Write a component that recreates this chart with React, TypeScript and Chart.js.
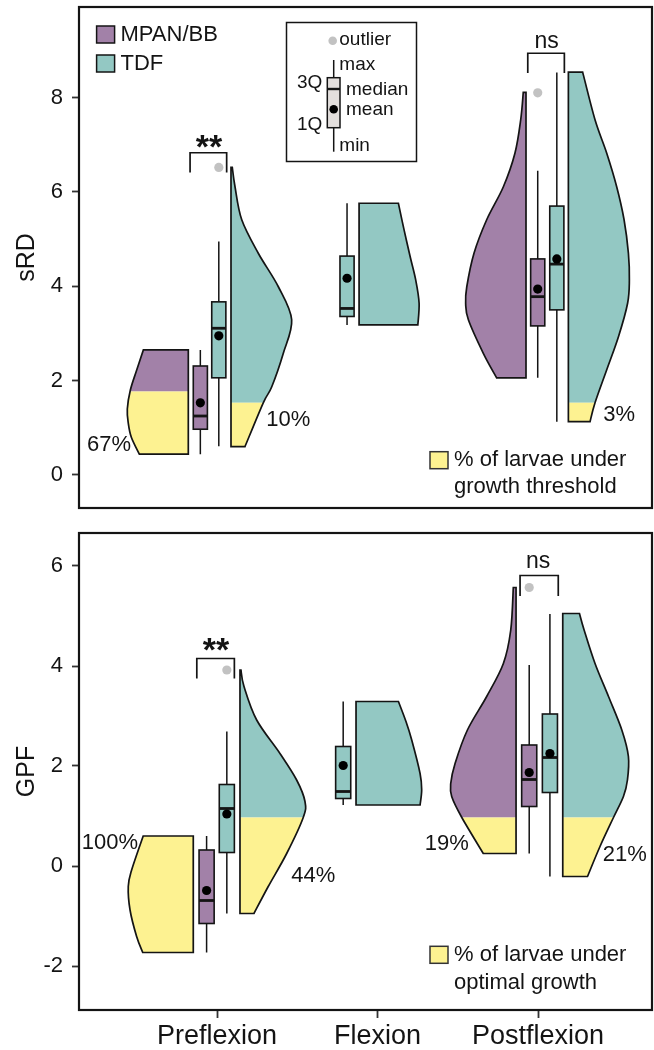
import React, { useEffect, useRef } from 'react';
import { Chart, registerables } from 'chart.js';

Chart.register(...registerables);

const FONT = "'Liberation Sans', Arial, Helvetica, sans-serif";
const PURPLE = '#a281a8';
const TEAL = '#93c8c3';
const YELLOW = '#fdf291';
const OUTLIER_GRAY = '#c2c2c2';
const INK = '#141414';

// ---------- shared categories ----------
const categories = ['Preflexion', 'Flexion', 'Postflexion'];
const groups = ['MPAN/BB', 'TDF'];

// ---------- sRD panel data ----------
const srdTicks = [0, 2, 4, 6, 8];
// [min, Q1, median, Q3, max] per category
const srdMpanBox = [[0.44, 0.97, 1.25, 2.31, 2.65], null, [2.06, 3.16, 3.78, 4.58, 6.45]];
const srdTdfBox = [[0.61, 2.06, 3.11, 3.67, 4.95], [3.18, 3.36, 3.53, 4.64, 5.76], [1.13, 3.5, 4.47, 5.7, 8.53]];
const srdMpanMean = [1.53, null, 3.94];
const srdTdfMean = [2.95, 4.17, 4.58];
const srdMpanOutliers = [[], [], [8.1]];
const srdTdfOutliers = [[6.52], [], []];
// half-violin density: [value, half-width in category units]
const srdMpanDensity = [
  [[0.44, 0.305], [0.8, 0.355], [1.1, 0.374], [1.4, 0.38], [1.8, 0.361], [2.2, 0.324], [2.65, 0.28]],
  null,
  [[2.06, 0.183], [2.58, 0.266], [3.29, 0.359], [3.64, 0.376], [3.99, 0.369], [4.7, 0.324], [5.41, 0.245], [6.11, 0.141], [6.82, 0.069], [7.53, 0.033], [8.11, 0.017]],
];
const srdTdfDensity = [
  [[0.6, 0.087], [1.53, 0.201], [1.87, 0.254], [2.58, 0.326], [3.29, 0.378], [3.99, 0.295], [4.7, 0.17], [5.41, 0.067], [6.11, 0.025], [6.52, 0.008]],
  [[3.18, 0.366], [3.64, 0.374], [4.13, 0.353], [4.63, 0.318], [5.2, 0.28], [5.76, 0.245]],
  [[1.13, 0.135], [1.53, 0.166], [2.23, 0.239], [2.93, 0.312], [3.64, 0.369], [4.13, 0.38], [4.7, 0.374], [5.41, 0.347], [6.11, 0.301], [6.82, 0.239], [7.53, 0.166], [8.54, 0.089]],
];
const srdThresholds = [1.77, 1.53];
const srdMpanPct = ['67%', null, null];
const srdTdfPct = ['10%', null, '3%'];
const srdSignif = ['**', null, 'ns'];

// ---------- GPF panel data ----------
const gpfTicks = [-2, 0, 2, 4, 6];
const gpfMpanBox = [[-1.73, -1.15, -0.69, 0.32, 0.6], null, [0.25, 1.19, 1.73, 2.42, 4.02]];
const gpfTdfBox = [[-0.95, 0.27, 1.15, 1.63, 2.69], [1.22, 1.35, 1.49, 2.39, 3.29], [-0.21, 1.47, 2.17, 3.04, 5.04]];
const gpfMpanMean = [-0.49, null, 1.87];
const gpfTdfMean = [1.04, 2.01, 2.25];
const gpfMpanOutliers = [[], [], [5.57]];
const gpfTdfOutliers = [[3.92], [], []];
const gpfMpanDensity = [
  [[-1.73, 0.315], [-1.41, 0.353], [-0.88, 0.394], [-0.41, 0.405], [-0.08, 0.384], [0.6, 0.312]],
  null,
  [[0.25, 0.204], [0.97, 0.338], [1.39, 0.401], [1.65, 0.407], [2.05, 0.38], [2.72, 0.303], [3.39, 0.183], [4.05, 0.079], [4.72, 0.033], [5.57, 0.017]],
];
const gpfTdfDensity = [
  [[-0.95, 0.087], [-0.41, 0.176], [0.25, 0.291], [0.97, 0.394], [1.29, 0.405], [1.72, 0.353], [2.25, 0.249], [2.92, 0.104], [3.59, 0.025], [3.92, 0.006]],
  [[1.22, 0.399], [1.52, 0.409], [1.85, 0.399], [2.52, 0.347], [2.9, 0.31], [3.29, 0.264]],
  [[-0.21, 0.154], [0.39, 0.232], [0.97, 0.316], [1.39, 0.378], [1.72, 0.403], [2.19, 0.409], [2.72, 0.368], [3.39, 0.285], [4.05, 0.201], [4.72, 0.133], [5.05, 0.104]],
];
const gpfThresholds = [0.97, 0.97];
const gpfMpanPct = ['100%', null, '19%'];
const gpfTdfPct = ['44%', null, '21%'];
const gpfSignif = ['**', null, 'ns'];

// ---------- layout (positions only) ----------
const srdLayout = {
  canvasTop: 0, height: 515, padTop: 7, padBottom: 7, xHeight: 0,
  yMin: -0.7, yMax: 9.92,
  violinOffset: [[-0.179, null, -0.075], [0.087, -0.115, 0.189]],
  boxOffset: [[-0.104, null, -0.002], [0.011, -0.19, 0.117]],
  boxHalf: 0.044,
  pctPos: [[[0.327, 0.636], null, null], [[1.444, 1.166], null, [3.505, 1.27]]],
  bracket: [
    { x0: 0.832, x1: 1.06, top: 6.83, leg: 6.41, tx: 0.95, ty: 7.12 },
    null,
    { x0: 2.936, x1: 3.164, top: 8.94, leg: 8.52, tx: 3.054, ty: 9.17 },
  ],
  key: { sqX: -222, sqY: -56.3, textX: -198, l1: -48, l2: -20.7 },
};
const gpfLayout = {
  canvasTop: 515, height: 535, padTop: 18, padBottom: 0, xHeight: 40,
  yMin: -2.88, yMax: 6.66,
  violinOffset: [[-0.148, null, -0.137], [0.143, -0.134, 0.154]],
  boxOffset: [[-0.065, null, -0.055], [0.061, -0.214, 0.074]],
  boxHalf: 0.047,
  pctPos: [[[0.333, 0.47], null, [2.431, 0.45]], [[1.6, -0.2], null, [3.54, 0.22]]],
  bracket: [
    { x0: 0.874, x1: 1.108, top: 4.15, leg: 3.75, tx: 0.994, ty: 4.48 },
    null,
    { x0: 2.888, x1: 3.126, top: 5.81, leg: 5.4, tx: 3.0, ty: 6.07 },
  ],
  key: { sqX: -222, sqY: -63.7, textX: -198, l1: -55, l2: -27.4 },
};

const srdPanel = {
  title: 'sRD', ticks: srdTicks, box: [srdMpanBox, srdTdfBox], mean: [srdMpanMean, srdTdfMean],
  outliers: [srdMpanOutliers, srdTdfOutliers], density: [srdMpanDensity, srdTdfDensity],
  thresholds: srdThresholds, pct: [srdMpanPct, srdTdfPct], signif: srdSignif,
  keyText: ['% of larvae under', 'growth threshold'], showGroups: true, showX: false, layout: srdLayout,
};
const gpfPanel = {
  title: 'GPF', ticks: gpfTicks, box: [gpfMpanBox, gpfTdfBox], mean: [gpfMpanMean, gpfTdfMean],
  outliers: [gpfMpanOutliers, gpfTdfOutliers], density: [gpfMpanDensity, gpfTdfDensity],
  thresholds: gpfThresholds, pct: [gpfMpanPct, gpfTdfPct], signif: gpfSignif,
  keyText: ['% of larvae under', 'optimal growth'], showGroups: false, showX: true, layout: gpfLayout,
};

const groupColors = [PURPLE, TEAL];

function drawViolin(ctx, xs, ys, area, base, dens, side, color, threshold) {
  const pts = dens.map(([v, w]) => ({ x: xs.getPixelForValue(base + side * w), y: ys.getPixelForValue(v) }));
  const bx = xs.getPixelForValue(base);
  const path = new Path2D();
  path.moveTo(bx, pts[0].y);
  path.lineTo(pts[0].x, pts[0].y);
  for (let i = 0; i < pts.length - 1; i++) {
    const p0 = pts[Math.max(0, i - 1)];
    const p1 = pts[i];
    const p2 = pts[i + 1];
    const p3 = pts[Math.min(pts.length - 1, i + 2)];
    path.bezierCurveTo(
      p1.x + (p2.x - p0.x) / 6, p1.y + (p2.y - p0.y) / 6,
      p2.x - (p3.x - p1.x) / 6, p2.y - (p3.y - p1.y) / 6,
      p2.x, p2.y
    );
  }
  path.lineTo(bx, pts[pts.length - 1].y);
  path.closePath();
  const ty = ys.getPixelForValue(threshold);
  ctx.save();
  ctx.beginPath();
  ctx.rect(area.left, area.top, area.right - area.left, ty - area.top);
  ctx.clip();
  ctx.fillStyle = color;
  ctx.fill(path);
  ctx.restore();
  ctx.save();
  ctx.beginPath();
  ctx.rect(area.left, ty, area.right - area.left, area.bottom - ty);
  ctx.clip();
  ctx.fillStyle = YELLOW;
  ctx.fill(path);
  ctx.restore();
  ctx.lineWidth = 1.7;
  ctx.strokeStyle = INK;
  ctx.lineJoin = 'miter';
  ctx.stroke(path);
}

function drawBox(ctx, xs, ys, center, half, stats, color) {
  const [mn, q1, med, q3, mx] = stats;
  const xl = xs.getPixelForValue(center - half);
  const xr = xs.getPixelForValue(center + half);
  const xc = xs.getPixelForValue(center);
  ctx.strokeStyle = INK;
  ctx.lineWidth = 1.5;
  ctx.beginPath();
  ctx.moveTo(xc, ys.getPixelForValue(mx));
  ctx.lineTo(xc, ys.getPixelForValue(q3));
  ctx.moveTo(xc, ys.getPixelForValue(q1));
  ctx.lineTo(xc, ys.getPixelForValue(mn));
  ctx.stroke();
  const yt = ys.getPixelForValue(q3);
  const yb = ys.getPixelForValue(q1);
  ctx.fillStyle = color;
  ctx.fillRect(xl, yt, xr - xl, yb - yt);
  ctx.lineWidth = 1.6;
  ctx.strokeRect(xl, yt, xr - xl, yb - yt);
  ctx.lineWidth = 2.8;
  ctx.beginPath();
  const ym = ys.getPixelForValue(med);
  ctx.moveTo(xl, ym);
  ctx.lineTo(xr, ym);
  ctx.stroke();
}

function text(ctx, str, x, y, size, align = 'left', baseline = 'middle', weight = 'normal') {
  ctx.font = `${weight} ${size}px ${FONT}`;
  ctx.fillStyle = INK;
  ctx.textAlign = align;
  ctx.textBaseline = baseline;
  ctx.fillText(str, x, y);
}

function zeroPadding(s) {
  s.paddingTop = 0;
  s.paddingBottom = 0;
  s.paddingLeft = 0;
  s.paddingRight = 0;
}

function makePlugin(panel) {
  const L = panel.layout;
  return {
    id: 'halfViolins',
    beforeDatasetsDraw(chart) {
      const { ctx, chartArea: area } = chart;
      const xs = chart.scales.x;
      const ys = chart.scales.y;
      ctx.save();
      ctx.beginPath();
      ctx.rect(area.left, area.top, area.right - area.left, area.bottom - area.top);
      ctx.clip();
      categories.forEach((_, ci) => {
        groups.forEach((__, gi) => {
          const dens = panel.density[gi][ci];
          if (dens) {
            drawViolin(ctx, xs, ys, area, ci + 1 + L.violinOffset[gi][ci], dens, gi === 0 ? -1 : 1, groupColors[gi], panel.thresholds[gi]);
          }
          const st = panel.box[gi][ci];
          if (st) drawBox(ctx, xs, ys, ci + 1 + L.boxOffset[gi][ci], L.boxHalf, st, groupColors[gi]);
        });
      });
      ctx.restore();
    },
    afterDraw(chart) {
      const { ctx, chartArea: area } = chart;
      const xs = chart.scales.x;
      const ys = chart.scales.y;
      ctx.save();
      // frame
      ctx.strokeStyle = INK;
      ctx.lineWidth = 2.2;
      ctx.strokeRect(area.left, area.top, area.right - area.left, area.bottom - area.top);
      // percentages
      groups.forEach((_, gi) => {
        panel.pct[gi].forEach((p, ci) => {
          if (!p) return;
          const pos = L.pctPos[gi][ci];
          text(ctx, p, xs.getPixelForValue(pos[0]), ys.getPixelForValue(pos[1]), 22, 'center');
        });
      });
      // significance brackets
      panel.signif.forEach((s, ci) => {
        const b = L.bracket[ci];
        if (!s || !b) return;
        ctx.strokeStyle = INK;
        ctx.lineWidth = 1.7;
        ctx.beginPath();
        ctx.moveTo(xs.getPixelForValue(b.x0), ys.getPixelForValue(b.leg));
        ctx.lineTo(xs.getPixelForValue(b.x0), ys.getPixelForValue(b.top));
        ctx.lineTo(xs.getPixelForValue(b.x1), ys.getPixelForValue(b.top));
        ctx.lineTo(xs.getPixelForValue(b.x1), ys.getPixelForValue(b.leg));
        ctx.stroke();
        const star = s === '**';
        const size = star ? 34 : 23;
        const shift = star ? 0.57 * size : 0.26 * size;
        text(ctx, s, xs.getPixelForValue(b.tx), ys.getPixelForValue(b.ty) + shift, size, 'center', 'alphabetic', star ? 'bold' : 'normal');
      });
      // yellow key
      const k = L.key;
      ctx.fillStyle = YELLOW;
      ctx.fillRect(area.right + k.sqX, area.bottom + k.sqY, 18, 17);
      ctx.strokeStyle = '#333';
      ctx.lineWidth = 1.5;
      ctx.strokeRect(area.right + k.sqX, area.bottom + k.sqY, 18, 17);
      text(ctx, panel.keyText[0], area.right + k.textX, area.bottom + k.l1, 22);
      text(ctx, panel.keyText[1], area.right + k.textX, area.bottom + k.l2, 22);
      if (panel.showGroups) {
        // group legend
        groups.forEach((g, gi) => {
          const y0 = area.top + 19 + gi * 29;
          ctx.fillStyle = groupColors[gi];
          ctx.fillRect(area.left + 17.6, y0, 18, 17);
          ctx.strokeStyle = INK;
          ctx.lineWidth = 1.5;
          ctx.strokeRect(area.left + 17.6, y0, 18, 17);
          text(ctx, g, area.left + 41.5, y0 + 9, 22);
        });
        // boxplot key inset
        const ox = area.left + 207.5;
        const oy = area.top + 15.5;
        ctx.fillStyle = '#fff';
        ctx.fillRect(ox, oy, 130, 139);
        ctx.strokeStyle = INK;
        ctx.lineWidth = 1.5;
        ctx.strokeRect(ox, oy, 130, 139);
        ctx.beginPath();
        ctx.moveTo(ox + 47.2, oy + 37.5);
        ctx.lineTo(ox + 47.2, oy + 129.2);
        ctx.stroke();
        ctx.fillStyle = '#e3dfdd';
        ctx.fillRect(ox + 40.8, oy + 55.2, 12.7, 50);
        ctx.strokeRect(ox + 40.8, oy + 55.2, 12.7, 50);
        ctx.lineWidth = 2.4;
        ctx.beginPath();
        ctx.moveTo(ox + 40.8, oy + 66.5);
        ctx.lineTo(ox + 53.5, oy + 66.5);
        ctx.stroke();
        ctx.fillStyle = '#000';
        ctx.beginPath();
        ctx.arc(ox + 47.2, oy + 86.8, 4.3, 0, Math.PI * 2);
        ctx.fill();
        ctx.fillStyle = OUTLIER_GRAY;
        ctx.beginPath();
        ctx.arc(ox + 46.2, oy + 18.2, 4.3, 0, Math.PI * 2);
        ctx.fill();
        text(ctx, 'outlier', ox + 52.8, oy + 17.5, 19);
        text(ctx, 'max', ox + 52.8, oy + 41.8, 19);
        text(ctx, '3Q', ox + 35.8, oy + 60.2, 19, 'right');
        text(ctx, 'median', ox + 59.5, oy + 67.5, 19);
        text(ctx, 'mean', ox + 59.5, oy + 87.5, 19);
        text(ctx, '1Q', ox + 35.8, oy + 102.5, 19, 'right');
        text(ctx, 'min', ox + 52.8, oy + 123.5, 19);
      }
      ctx.restore();
    },
  };
}

function Panel({ panel }) {
  const ref = useRef(null);
  const L = panel.layout;
  useEffect(() => {
    const meanPts = [];
    const outPts = [];
    groups.forEach((_, gi) => {
      categories.forEach((__, ci) => {
        const m = panel.mean[gi][ci];
        const x = ci + 1 + L.boxOffset[gi][ci];
        if (m !== null && m !== undefined) meanPts.push({ x, y: m });
        panel.outliers[gi][ci].forEach((o) => outPts.push({ x, y: o }));
      });
    });
    const chart = new Chart(ref.current, {
      type: 'scatter',
      data: {
        datasets: [
          { label: 'outlier', data: outPts, pointRadius: 4.6, pointBackgroundColor: OUTLIER_GRAY, pointBorderWidth: 0, borderWidth: 0 },
          { label: 'mean', data: meanPts, pointRadius: 4.6, pointBackgroundColor: '#000', pointBorderWidth: 0, borderWidth: 0 },
        ],
      },
      options: {
        responsive: false,
        animation: false,
        events: [],
        layout: { autoPadding: false, padding: { left: 0, right: 2, top: L.padTop, bottom: L.padBottom } },
        plugins: { legend: { display: false }, tooltip: { enabled: false } },
        scales: {
          x: {
            type: 'linear',
            min: 0.14,
            max: 3.71,
            display: panel.showX,
            afterBuildTicks: (s) => { s.ticks = categories.map((_, i) => ({ value: i + 1 })); },
            afterFit: (s) => { s.height = L.xHeight; zeroPadding(s); },
            ticks: {
              callback: (v) => categories[Math.round(Number(v)) - 1] ?? '',
              font: { family: FONT, size: 27 },
              color: INK,
              padding: 2,
              maxRotation: 0,
              autoSkip: false,
            },
            grid: { drawOnChartArea: false, drawTicks: true, tickLength: 8, tickWidth: 1.8, tickColor: '#333' },
            border: { display: false },
          },
          y: {
            type: 'linear',
            min: L.yMin,
            max: L.yMax,
            afterBuildTicks: (s) => { s.ticks = panel.ticks.map((v) => ({ value: v })); },
            afterFit: (s) => { s.width = 79; zeroPadding(s); },
            ticks: { font: { family: FONT, size: 22 }, color: INK, padding: 9, callback: (v) => String(v) },
            grid: { drawOnChartArea: false, drawTicks: true, tickLength: 7, tickWidth: 1.8, tickColor: '#333' },
            border: { display: false },
            title: { display: true, text: panel.title, font: { family: FONT, size: 25 }, color: INK, padding: { top: 12, bottom: 0 } },
          },
        },
      },
      plugins: [makePlugin(panel)],
    });
    return () => chart.destroy();
  }, []);
  return (
    <canvas
      ref={ref}
      width={654}
      height={L.height}
      style={{ position: 'absolute', left: 0, top: L.canvasTop, width: 654, height: L.height }}
    />
  );
}

export default function App() {
  return (
    <div style={{ position: 'absolute', left: 0, top: 0, width: 654, height: 1050, background: '#fff', overflow: 'hidden' }}>
      <Panel panel={srdPanel} />
      <Panel panel={gpfPanel} />
    </div>
  );
}
